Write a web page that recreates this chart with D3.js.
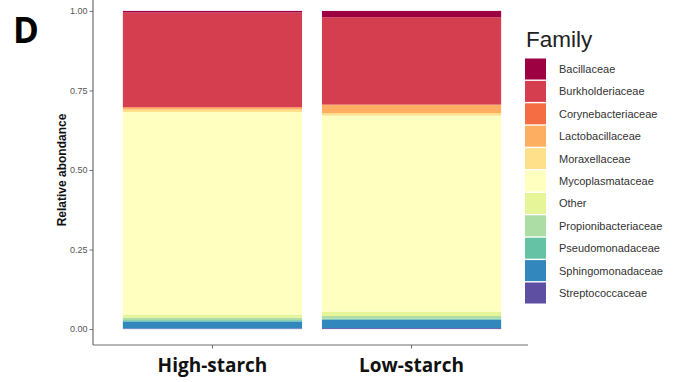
<!DOCTYPE html>
<html>
<head>
<meta charset="utf-8">
<script src="https://cdn.jsdelivr.net/npm/d3@7"></script>
<style>
  body { margin: 0; background: #fff; }
  svg { display: block; }
</style>
</head>
<body>
<svg id="chart" width="680" height="382"></svg>
<script>
// Groups shown on the x axis
const groups = ["High-starch", "Low-starch"];

// Bacterial families, top of stack first
const families = [
  "Bacillaceae", "Burkholderiaceae", "Corynebacteriaceae", "Lactobacillaceae",
  "Moraxellaceae", "Mycoplasmataceae", "Other", "Propionibacteriaceae",
  "Pseudomonadaceae", "Sphingomonadaceae", "Streptococcaceae"
];

// Relative abundance per family (same order as families)
const highStarch = [0.005, 0.297, 0.002, 0.006, 0.008, 0.636, 0.010, 0.008, 0.004, 0.022, 0.002];
const lowStarch  = [0.020, 0.274, 0.002, 0.025, 0.008, 0.616, 0.014, 0.008, 0.003, 0.027, 0.003];

const yTicks = [0, 0.25, 0.5, 0.75, 1];

const palette = ["#9E0142", "#D53E4F", "#F46D43", "#FDAE61", "#FEE08B", "#FFFFBF",
                 "#E6F598", "#ABDDA4", "#66C2A5", "#3288BD", "#5E4FA2"];

const svg = d3.select("#chart");

// Panel geometry
const panel = { left: 93, right: 531, top: -5, bottom: 345 };

const x = d3.scaleBand()
  .domain(groups)
  .range([panel.left, panel.right])
  .paddingInner(0.1)
  .paddingOuter(0.15);

const y = d3.scaleLinear()
  .domain([-0.05, 1.05])
  .range([panel.bottom, panel.top]);

const color = d3.scaleOrdinal().domain(families).range(palette);

// Build rows for stacking; bottom of the stack is the last family
const rows = groups.map((g, i) => {
  const vals = i === 0 ? highStarch : lowStarch;
  const r = { group: g };
  families.forEach((f, j) => r[f] = vals[j]);
  return r;
});

const stack = d3.stack().keys(families.slice().reverse());
const series = stack(rows);

const g = svg.append("g");
series.forEach(s => {
  g.selectAll(null)
    .data(s)
    .join("rect")
    .attr("x", d => x(d.data.group))
    .attr("width", x.bandwidth())
    .attr("y", d => y(d[1]))
    .attr("height", d => Math.max(0, y(d[0]) - y(d[1])))
    .attr("fill", color(s.key));
});

// Y axis
const yAxis = svg.append("g")
  .attr("transform", `translate(${panel.left},0)`)
  .call(d3.axisLeft(y).tickValues(yTicks).tickFormat(d3.format(".2f")).tickSize(3.5).tickPadding(2));
yAxis.select(".domain").attr("d", `M0,0V${panel.bottom}`).attr("stroke", "#6e6e6e").attr("stroke-width", 1.2);
yAxis.selectAll(".tick line").attr("stroke", "#6e6e6e");
yAxis.selectAll(".tick text")
  .attr("fill", "#555")
  .style("font-family", "Liberation Sans, Arial, sans-serif")
  .style("font-size", "9px");

// X axis
const xAxis = svg.append("g")
  .attr("transform", `translate(0,${panel.bottom})`)
  .call(d3.axisBottom(x).tickSize(3.5));
xAxis.select(".domain").attr("d", `M${panel.left},0H${panel.right - 3}`).attr("stroke", "#6e6e6e").attr("stroke-width", 1.2);
xAxis.selectAll(".tick line").attr("stroke", "#6e6e6e");
xAxis.selectAll(".tick text")
  .attr("fill", "#111")
  .attr("y", 27)
  .attr("dy", 0)
  .style("font-family", "Open Sans, sans-serif")
  .style("font-weight", "700")
  .style("font-size", "19px");

// Y axis title
svg.append("text")
  .attr("transform", `translate(66,${y(0.5)}) rotate(-90)`)
  .attr("text-anchor", "middle")
  .style("font-family", "Liberation Sans, Arial, sans-serif")
  .style("font-weight", "700")
  .style("font-size", "12px")
  .attr("fill", "#111")
  .text("Relative abondance");

// Panel letter
svg.append("text")
  .attr("x", 13)
  .attr("y", 43)
  .style("font-family", "Open Sans, sans-serif")
  .style("font-weight", "700")
  .style("font-size", "35px")
  .attr("fill", "#000")
  .text("D");

// Legend
const legend = svg.append("g").attr("transform", "translate(525,0)");
legend.append("text")
  .attr("x", 1)
  .attr("y", 47)
  .style("font-family", "Liberation Sans, Arial, sans-serif")
  .style("font-size", "22.5px")
  .attr("fill", "#222")
  .text("Family");

const item = legend.selectAll("g.item")
  .data(families)
  .join("g")
  .attr("class", "item")
  .attr("transform", (d, i) => `translate(0,${58.5 + i * 22.4})`);
item.append("rect")
  .attr("width", 21)
  .attr("height", 21)
  .attr("fill", d => color(d));
item.append("text")
  .attr("x", 34)
  .attr("y", 14.5)
  .style("font-family", "Liberation Sans, Arial, sans-serif")
  .style("font-size", "11px")
  .attr("fill", "#333")
  .text(d => d);
</script>
</body>
</html>
